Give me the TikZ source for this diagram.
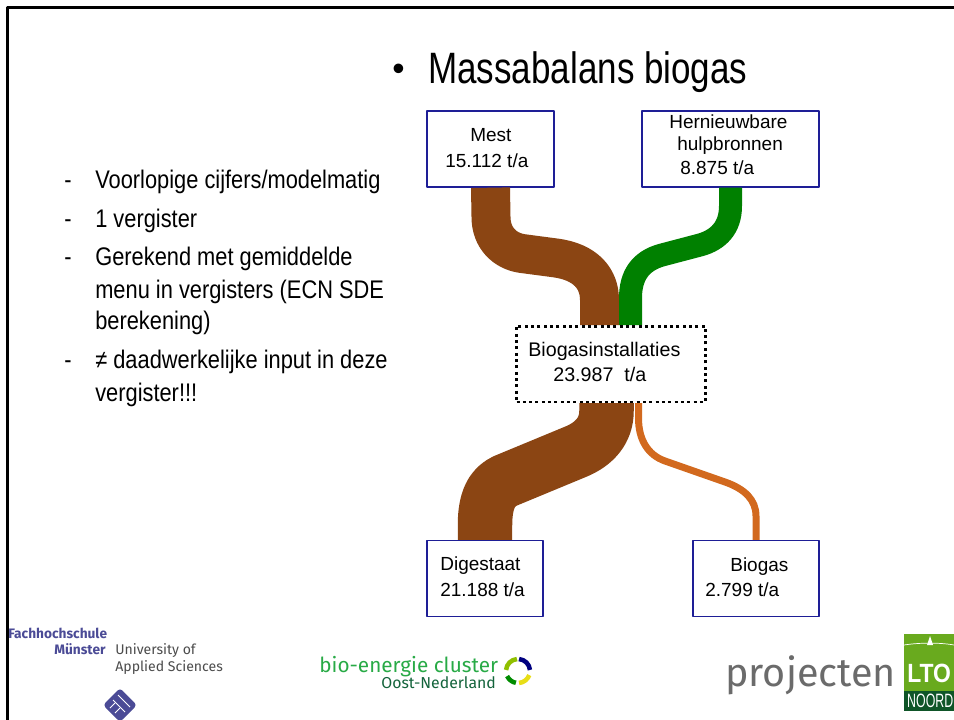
\documentclass[tikz,border=0pt]{standalone}
\usepackage{fontspec}
\setmainfont{Liberation Sans}
\newfontfamily\logofont{Fira Sans}
\usetikzlibrary{positioning}
\definecolor{mestbrown}{RGB}{139,69,19}
\definecolor{hulpgreen}{RGB}{0,128,0}
\definecolor{gasorange}{RGB}{210,105,30}
\definecolor{boxblue}{RGB}{30,30,150}
\definecolor{fhblue}{RGB}{75,75,150}
\definecolor{bioenergie}{RGB}{40,170,70}
\definecolor{oostgreen}{RGB}{20,100,60}
\definecolor{ltogreen}{RGB}{105,170,30}
\definecolor{ltodark}{RGB}{15,85,40}
\tikzset{
flowbox/.style={draw=boxblue, line width=.8pt, fill=white, inner sep=0pt},
flowtext/.style={font=\fontsize{10.8}{12}\selectfont, anchor=base west, inner sep=0pt},
listtext/.style={font=\fontsize{14.5}{16}\selectfont, anchor=base west, inner sep=0pt, xscale=.857, transform shape},
logotext/.style={anchor=base west, inner sep=0pt},
}
\begin{document}
\begin{tikzpicture}[x=.02cm, y=-.02cm, line join=round]
\useasboundingbox (0,0) rectangle (954,720);
\fill[white] (0,0) rectangle (954,720);
\draw[line width=1.6pt] (954,7.5)--(7.5,7.5)--(7.5,720);
% boxes
\node[flowbox, minimum width=2.54cm, minimum height=1.52cm] (mest) at (490.5,149) {};
\node[flowbox, minimum width=3.54cm, minimum height=1.52cm] (hulp) at (730.5,149) {};
\node[flowbox, minimum width=2.32cm, minimum height=1.52cm] (dig) at (485,578.5) {};
\node[flowbox, minimum width=2.52cm, minimum height=1.52cm] (gas) at (756,578.5) {};
\coordinate (inmest) at (599.5,325);
\coordinate (inhulp) at (630.5,325);
\coordinate (outdig) at (606.5,403);
\coordinate (outgas) at (638.5,403);
% flows
\draw[mestbrown, line width=.78cm] (mest.south)--(491,217) .. controls (491,238) and (505,251) .. (522,253.5)
 -- (556,258) .. controls (585,262) and (599.5,278) .. (599.5,300) -- (inmest);
\draw[hulpgreen, line width=.46cm] (hulp.south)--(730.5,206) .. controls (730.5,228) and (718,240) .. (700,245)
 -- (662,255) .. controls (640,261) and (630.5,276) .. (630.5,298) -- (inhulp);
\draw[mestbrown, line width=1.09cm] (outdig)--(606.5,411) .. controls (606.5,430) and (595,444) .. (575,452)
 -- (505,481) .. controls (492,487) and (485,500) .. (485,525) -- (dig.north);
\draw[gasorange, line width=.14cm] (outgas)--(638.5,418) .. controls (638.5,440) and (648,455) .. (665,461)
 -- (725,482) .. controls (745,489) and (756,500) .. (756,516) -- (gas.north);
% centre box
\node[draw, fill=white, line width=1.7pt, dash pattern=on 1.7pt off 1.9pt, minimum width=3.78cm, minimum height=1.52cm, inner sep=0pt] (inst) at (611,364) {};
% labels
\node[flowtext] at (470,141) {Mest};
\node[flowtext] at (445,167) {15.112 t/a};
\node[flowtext] at (669,128) {Hernieuwbare};
\node[flowtext] at (677,150) {hulpbronnen};
\node[flowtext] at (680,174) {8.875 t/a};
\node[flowtext, font=\fontsize{11.2}{12}\selectfont] at (528,356) {Biogasinstallaties};
\node[flowtext, font=\fontsize{11.2}{12}\selectfont] at (553,381) {23.987\ \ t/a};
\node[flowtext] at (440,570) {Digestaat};
\node[flowtext] at (440,596) {21.188 t/a};
\node[flowtext] at (730,571) {Biogas};
\node[flowtext] at (705,596) {2.799 t/a};
% title
\node[font=\fontsize{20}{24}\selectfont, anchor=base west, inner sep=0pt] at (392,80) {•};
\node[font=\fontsize{25}{28}\selectfont, anchor=base west, inner sep=0pt, xscale=.797, transform shape] (title) at (428,83) {Massabalans biogas};
% list
\foreach \y/\t in {188/{Voorlopige cijfers/modelmatig},227/1 vergister,265/Gerekend met gemiddelde,368/{≠ daadwerkelijke input in deze}}
\node[listtext] at (95,\y) {\t};
\foreach \y in {188,227,265,368}
\node[listtext] at (64,\y) {-};
\node[listtext] at (95,298) {menu in vergisters (ECN SDE};
\node[listtext] at (95,329) {berekening)};
\node[listtext] at (95,401) {vergister!!!};
% logos
\node[logotext, font=\logofont\fontsize{7.8}{8}\selectfont\bfseries, text=fhblue] at (8,638) {Fachhochschule};
\node[logotext, font=\logofont\fontsize{7.8}{8}\selectfont\bfseries, text=fhblue] at (54,654) {Münster};
\node[logotext, font=\logofont\fontsize{8}{9}\selectfont, text=black!70] at (115,654) {University of};
\node[logotext, font=\logofont\fontsize{8}{9}\selectfont, text=black!70] at (115,671) {Applied Sciences};
\fill[fhblue, rounded corners=2pt] (120,688)--(137,705)--(120,722)--(103,705)--cycle;
\foreach \d in {0,5,10}
\draw[white, line width=.5pt] (113+\d,700-\d)--(125+\d,712-\d);
\foreach \d in {0,5}
\draw[white, line width=.5pt] (110+\d,708+\d)--(115+\d,703+\d);
\node[logotext, font=\logofont\fontsize{11.8}{14}\selectfont, text=bioenergie] at (319,672) {bio-energie cluster};
\node[logotext, font=\logofont\fontsize{9}{10}\selectfont, text=oostgreen] at (381,688) {Oost-Nederland};
\foreach \c/\a/\b in {{blue!50!black}/85/5,{yellow!90!black}/-20/-85,{green!55!black}/-100/-155,{lime!75!black}/175/95}
\draw[\c, line width=.09cm] (518,671) ++(\a:.24cm) arc[start angle=\a, end angle=\b, radius=.24cm];
\node[logotext, font=\logofont\fontsize{22.5}{26}\selectfont, text=black!58] at (725,686) {projecten};
\fill[ltogreen] (904,634) rectangle (954,691);
\fill[ltodark] (904,691) rectangle (954,711);
\draw[white, line width=.4pt] (904,645) .. controls (920,642.5) and (940,642.5) .. (954,645);
\fill[white] (927,645)--(930,636)--(933,645)--cycle;
\node[logotext, font=\fontsize{15}{18}\selectfont\bfseries, text=white, xscale=.87, transform shape] at (907,682) {LTO};
\node[logotext, font=\fontsize{11}{12}\selectfont, text=white, xscale=.64, transform shape] at (907,707) {NOORD};
\end{tikzpicture}
\end{document}
